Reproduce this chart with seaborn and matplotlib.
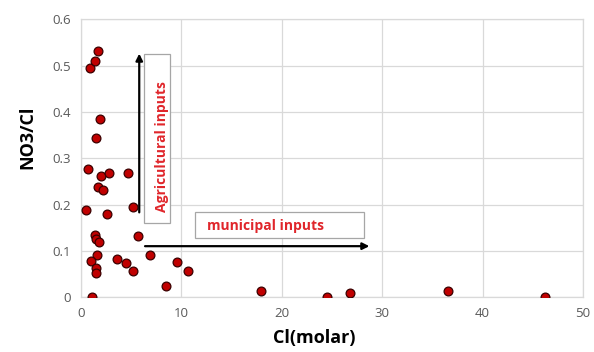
import matplotlib
matplotlib.use("Agg")
import matplotlib.pyplot as plt
from matplotlib.patches import Rectangle
import seaborn as sns
import pandas as pd

cl_molar = [1.09, 0.9, 1.39, 1.66, 1.89, 1.49, 0.73, 1.96, 2.82, 4.65, 1.66, 2.22,
            0.47, 2.62, 5.2, 1.36, 1.46, 1.79, 5.67, 1.62, 0.97, 3.61, 4.48, 5.14,
            1.46, 1.46, 6.84, 9.58, 10.65, 8.49, 17.9, 24.5, 26.8, 36.6, 46.2]
no3_cl = [0.0, 0.494, 0.511, 0.532, 0.385, 0.343, 0.276, 0.262, 0.269, 0.268, 0.238, 0.232,
          0.189, 0.180, 0.194, 0.135, 0.125, 0.119, 0.132, 0.092, 0.078, 0.083, 0.073, 0.056,
          0.062, 0.053, 0.091, 0.076, 0.056, 0.025, 0.014, 0.0, 0.009, 0.014, 0.0]
x_ticks = [0, 10, 20, 30, 40, 50]
y_ticks = [0, 0.1, 0.2, 0.3, 0.4, 0.5, 0.6]
y_tick_labels = ["0", "0.1", "0.2", "0.3", "0.4", "0.5", "0.6"]

df = pd.DataFrame({"Cl(molar)": cl_molar, "NO3/Cl": no3_cl})

sns.set_style("white")
plt.rcParams["font.family"] = ["Open Sans", "DejaVu Sans"]

fig = plt.figure(figsize=(5.94, 3.52), dpi=100)
ax = fig.add_axes([0.1364, 0.156, 0.845, 0.789])

sns.scatterplot(data=df, x="Cl(molar)", y="NO3/Cl", ax=ax, s=40,
                color="#c00000", edgecolor="#3a0000", linewidth=0.9, zorder=3)

ax.set_xlim(0, 50)
ax.set_ylim(0, 0.6)
ax.set_xticks(x_ticks)
ax.set_yticks(y_ticks)
ax.set_yticklabels(y_tick_labels)
ax.grid(True, color="#d9d9d9", linewidth=0.9)
ax.set_axisbelow(True)
for sp in ax.spines.values():
    sp.set_color("#d9d9d9")
    sp.set_linewidth(0.9)
ax.tick_params(axis="both", length=0, colors="#595959", labelsize=9.5, pad=7)
ax.set_xlabel("Cl(molar)", fontsize=13, fontweight="bold", color="black")
ax.set_ylabel("NO3/Cl", fontsize=13, fontweight="bold", color="black")
ax.xaxis.set_label_coords(0.465, -0.1475)
ax.xaxis.label.set_verticalalignment("center")
ax.yaxis.set_label_coords(-0.1066, 0.574)
ax.yaxis.label.set_verticalalignment("center")

# Arrows
ax.annotate("", xy=(5.8, 0.532), xytext=(5.8, 0.177),
            arrowprops=dict(arrowstyle="-|>", color="black", lw=1.6, mutation_scale=10),
            zorder=4)
ax.annotate("", xy=(29.0, 0.110), xytext=(6.1, 0.110),
            arrowprops=dict(arrowstyle="-|>", color="black", lw=1.6, mutation_scale=10),
            zorder=4)

# Label boxes
ax.add_patch(Rectangle((6.27, 0.160), 2.59, 0.366, fc="white", ec="#a6a6a6", lw=0.9, zorder=4))
ax.text(8.11, 0.184, "Agricultural inputs", rotation=90, ha="center", va="bottom",
        color="#e0262b", fontsize=10, fontweight="bold", zorder=5)
ax.add_patch(Rectangle((11.34, 0.127), 16.82, 0.056, fc="white", ec="#a6a6a6", lw=0.9, zorder=4))
ax.text(12.57, 0.153, "municipal inputs", ha="left", va="center",
        color="#e0262b", fontsize=10, fontweight="bold", zorder=5)

fig.savefig("out.png", dpi=100)
